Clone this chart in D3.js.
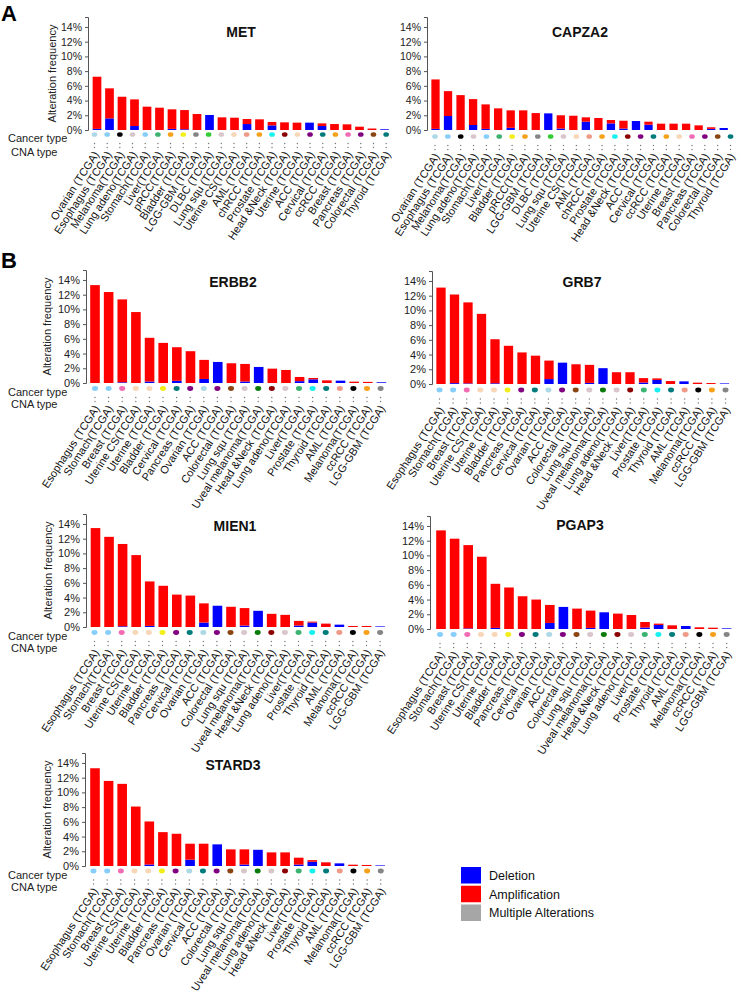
<!DOCTYPE html>
<html><head><meta charset="utf-8">
<script src="https://cdn.jsdelivr.net/npm/d3@7"></script>
<style>
body{margin:0;background:#fff}
svg{display:block}
text{font-family:"Liberation Sans",Arial,Helvetica,sans-serif}
</style>
</head><body>
<svg id="c" width="741" height="995"></svg>
<script>
// ---------- shared ----------
const yTicks = [0, 2, 4, 6, 8, 10, 12, 14];
const yTickLabels = ["0%", "2%", "4%", "6%", "8%", "10%", "12%", "14%"];
const legendLabels = ["Deletion", "Amplification", "Multiple Alterations"];
const legendColors = ["#0000FF", "#FF0000", "#A6A6A6"];

// ---------- panel A ----------
const metCats = ["Ovarian (TCGA)","Esophagus (TCGA)","Melanoma(TCGA)","Lung adeno(TCGA)","Stomach(TCGA)","Liver(TCGA)","pRCC(TCGA)","Bladder (TCGA)","LGG-GBM (TCGA)","DLBC (TCGA)","Lung squ (TCGA)","Uterine CS(TCGA)","AML (TCGA)","chRCC (TCGA)","Prostate (TCGA)","Head &Neck (TCGA)","Uterine (TCGA)","ACC (TCGA)","Cervical (TCGA)","ccRCC (TCGA)","Breast (TCGA)","Pancreas (TCGA)","Colorectal (TCGA)","Thyroid (TCGA)"];
const metDel = [0.15,1.58,0,0.54,0,0,0.15,0.1,0,2.04,0,0,0.81,0,0.63,0,0,1.0,0.54,0,0,0,0,0.1];
const metAmp = [7.09,4.08,4.52,3.62,3.17,3.03,2.66,2.61,2.17,0,1.72,1.67,0.68,1.45,0.46,1.04,1.0,0,0.36,0.81,0.77,0.45,0.2,0];

const capza2Cats = ["Ovarian (TCGA)","Esophagus (TCGA)","Melanoma(TCGA)","Lung adeno(TCGA)","Stomach(TCGA)","Liver(TCGA)","Bladder (TCGA)","pRCC(TCGA)","LGG-GBM (TCGA)","DLBC (TCGA)","Lung squ (TCGA)","Uterine CS(TCGA)","AML (TCGA)","chRCC (TCGA)","Prostate (TCGA)","Head &Neck (TCGA)","ACC (TCGA)","Cervical (TCGA)","ccRCC (TCGA)","Uterine (TCGA)","Breast (TCGA)","Pancreas (TCGA)","Colorectal (TCGA)","Thyroid (TCGA)"];
const capza2Del = [0.15,1.9,0,0.68,0.15,0,0.3,0,0,2.26,0.2,0,1.13,0,0.9,0.2,1.22,0.72,0,0,0,0,0.15,0.27];
const capza2Amp = [6.72,3.38,4.74,3.52,3.33,2.94,2.37,2.67,2.3,0,1.8,1.94,0.59,1.63,0.46,1.06,0,0.41,0.86,0.86,0.86,0.63,0.22,0];

// ---------- panel B ----------
const erbb2Cats = ["Esophagus (TCGA)","Stomach(TCGA)","Breast (TCGA)","Uterine CS(TCGA)","Uterine (TCGA)","Bladder (TCGA)","Cervical (TCGA)","Pancreas (TCGA)","Ovarian (TCGA)","ACC (TCGA)","Colorectal (TCGA)","Lung squ (TCGA)","Uveal melanoma(TCGA)","Head &Neck (TCGA)","Lung adeno(TCGA)","Liver(TCGA)","Prostate (TCGA)","Thyroid (TCGA)","AML (TCGA)","Melanoma(TCGA)","ccRCC (TCGA)","LGG-GBM (TCGA)"];
const erbb2Del = [0,0,0.1,0,0.2,0,0.3,0,0.55,2.86,0,0.2,2.18,0,0,0.25,0.5,0,0.32,0,0,0.1];
const erbb2Amp = [13.3,12.36,11.26,9.64,5.94,5.45,4.56,4.32,2.59,0,2.68,2.39,0,1.95,1.77,0.57,0.18,0.36,0,0.18,0.15,0];

const grb7Cats = ["Esophagus (TCGA)","Stomach(TCGA)","Breast (TCGA)","Uterine CS(TCGA)","Uterine (TCGA)","Bladder (TCGA)","Pancreas (TCGA)","Cervical (TCGA)","Ovarian (TCGA)","ACC (TCGA)","Colorectal (TCGA)","Lung squ (TCGA)","Uveal melanoma(TCGA)","Lung adeno(TCGA)","Head &Neck (TCGA)","Liver(TCGA)","Prostate (TCGA)","Thyroid (TCGA)","AML (TCGA)","Melanoma(TCGA)","ccRCC (TCGA)","LGG-GBM (TCGA)"];
const grb7Del = [0,0.12,0.08,0,0.1,0,0,0,0.67,2.9,0,0.15,2.15,0,0,0.2,0.55,0,0.36,0,0,0.08];
const grb7Amp = [13.1,12.04,11.01,9.53,5.98,5.19,4.29,3.85,2.51,0,2.68,2.45,0,1.6,1.6,0.6,0.21,0.4,0,0.18,0.13,0];

const mien1Cats = ["Esophagus (TCGA)","Stomach(TCGA)","Breast (TCGA)","Uterine CS(TCGA)","Uterine (TCGA)","Bladder (TCGA)","Pancreas (TCGA)","Cervical (TCGA)","Ovarian (TCGA)","ACC (TCGA)","Colorectal (TCGA)","Lung squ (TCGA)","Uveal melanoma(TCGA)","Head &Neck (TCGA)","Lung adeno(TCGA)","Liver(TCGA)","Prostate (TCGA)","Thyroid (TCGA)","AML (TCGA)","Melanoma(TCGA)","ccRCC (TCGA)","LGG-GBM (TCGA)"];
const mien1Del = [0,0,0.1,0,0.15,0,0,0,0.6,2.89,0,0.2,2.2,0,0,0.2,0.6,0,0.32,0,0,0.08];
const mien1Amp = [13.44,12.25,11.18,9.77,6.04,5.6,4.4,4.27,2.61,0,2.75,2.37,0,1.79,1.65,0.63,0.13,0.46,0,0.14,0.14,0];

const pgap3Cats = ["Esophagus (TCGA)","Stomach(TCGA)","Breast (TCGA)","Uterine CS(TCGA)","Uterine (TCGA)","Bladder (TCGA)","Pancreas (TCGA)","Cervical (TCGA)","Ovarian (TCGA)","ACC (TCGA)","Colorectal (TCGA)","Lung squ (TCGA)","Uveal melanoma(TCGA)","Head &Neck (TCGA)","Lung adeno(TCGA)","Liver(TCGA)","Prostate (TCGA)","Thyroid (TCGA)","AML (TCGA)","Melanoma(TCGA)","ccRCC (TCGA)","LGG-GBM (TCGA)"];
const pgap3Del = [0,0,0.08,0,0.15,0,0,0,0.82,3.0,0,0.15,2.27,0,0,0.2,0.55,0,0.41,0,0,0.09];
const pgap3Amp = [13.4,12.27,11.32,9.82,5.99,5.64,4.45,4.0,2.45,0,2.77,2.35,0,2.09,1.9,0.75,0.18,0.5,0,0.23,0.18,0];

const stard3Cats = ["Esophagus (TCGA)","Stomach(TCGA)","Breast (TCGA)","Uterine CS(TCGA)","Uterine (TCGA)","Bladder (TCGA)","Pancreas (TCGA)","Ovarian (TCGA)","Cervical (TCGA)","ACC (TCGA)","Colorectal (TCGA)","Lung squ (TCGA)","Uveal melanoma(TCGA)","Lung adeno(TCGA)","Head &Neck (TCGA)","Liver(TCGA)","Prostate (TCGA)","Thyroid (TCGA)","AML (TCGA)","Melanoma(TCGA)","ccRCC (TCGA)","LGG-GBM (TCGA)"];
const stard3Del = [0,0,0,0,0.2,0,0,0.86,0,2.94,0,0.2,2.2,0,0,0.2,0.58,0,0.36,0,0,0.08];
const stard3Amp = [13.28,11.56,11.16,8.08,5.85,4.6,4.38,2.17,3.03,0,2.26,2.06,0,1.85,1.85,0.93,0.22,0.5,0,0.18,0.14,0];

// cancer type colours (cBioPortal style)
const typeNames = ["Ovarian","Esophagus","Stomach","Melanoma","Lung adeno","Lung squ","Liver","Bladder","pRCC","chRCC","ccRCC","LGG-GBM","DLBC","Uterine CS","Uterine","AML","Prostate","Head &Neck","ACC","Cervical","Thyroid","Breast","Pancreas","Colorectal","Uveal melanoma"];
const typeColors = ["#ADD8E6","#87CEFA","#87CEFA","#000000","#D8C6CB","#D8C6CB","#3CB371","#F2EE1A","#F7A11A","#F7A11A","#F7A11A","#858585","#32CD32","#F8D6B8","#F8D6B8","#EE9A86","#16F0F0","#8B0000","#800080","#007B7B","#007B7B","#F26CB4","#800080","#8B4513","#0A7A0A"];
const colorOf = d3.scaleOrdinal().domain(typeNames).range(typeColors);
const typeKey = s => s.replace(/\(TCGA\)/, "").trim();

// ---------- layout ----------
const panels = [
  {gene:"MET", cats:metCats, del:metDel, amp:metAmp, axisX:88, zeroY:130, barC:97, barStep:12.5, barW:8.7, dotC:94.5, dotStep:12.68, dotY:134.5, titleX:241, titleY:37, left:true, tickFont:10.5, rx:2.8, ry:2.3, rowDy:[7.5,21.5], ylabX:56, labFont:11},
  {gene:"CAPZA2", cats:capza2Cats, del:capza2Del, amp:capza2Amp, axisX:427, zeroY:130, barC:435.5, barStep:12.53, barW:8.3, dotC:435, dotStep:12.85, dotY:136.5, titleX:580, titleY:37, left:false, tickFont:10.5, rx:2.8, ry:2.3, labFont:11},
  {gene:"ERBB2", cats:erbb2Cats, del:erbb2Del, amp:erbb2Amp, axisX:86, zeroY:383, barC:95, barStep:13.64, barW:9.6, dotC:95, dotStep:13.6, dotY:388.5, titleX:233, titleY:287, left:true, tickFont:11, rx:3, ry:2.4, rowDy:[7,19.5], ylabX:51, labFont:11},
  {gene:"GRB7", cats:grb7Cats, del:grb7Del, amp:grb7Amp, axisX:432, zeroY:384, barC:441, barStep:13.5, barW:9.3, dotC:439.5, dotStep:13.62, dotY:390, titleX:582, titleY:287, left:false, tickFont:11, rx:3, ry:2.4, labFont:11},
  {gene:"MIEN1", cats:mien1Cats, del:mien1Del, amp:mien1Amp, axisX:86, zeroY:627, barC:95.5, barStep:13.55, barW:9.6, dotC:94.5, dotStep:13.6, dotY:632.5, titleX:235, titleY:531, left:true, tickFont:11, rx:3, ry:2.4, rowDy:[7,19.5], ylabX:52, labFont:11},
  {gene:"PGAP3", cats:pgap3Cats, del:pgap3Del, amp:pgap3Amp, axisX:430, zeroY:629, barC:441, barStep:13.6, barW:9.6, dotC:440, dotStep:13.65, dotY:634.5, titleX:580, titleY:530, left:false, tickFont:11, rx:3, ry:2.4, labFont:11},
  {gene:"STARD3", cats:stard3Cats, del:stard3Del, amp:stard3Amp, axisX:85, zeroY:866, barC:95, barStep:13.58, barW:9.6, dotC:93.5, dotStep:13.68, dotY:871, titleX:233, titleY:770, left:true, tickFont:11, rx:3, ry:2.4, rowDy:[7.5,19.5], ylabX:51, labFont:11}
];

const svg = d3.select("#c");
const PX_PER_PCT = 7.36;
const Y_MAX = 15.35;

panels.forEach(p => {
  const n = p.cats.length;
  const pad = 1 - p.barW / p.barStep;
  const x0 = p.barC - p.barStep / 2;
  const x = d3.scaleBand().domain(p.cats).range([x0, x0 + n * p.barStep]).paddingInner(pad).paddingOuter(pad / 2);
  const xd = d3.scalePoint().domain(p.cats).range([p.dotC, p.dotC + (n - 1) * p.dotStep]);
  const y = d3.scaleLinear().domain([0, Y_MAX]).range([p.zeroY, p.zeroY - Y_MAX * PX_PER_PCT]);
  const g = svg.append("g");

  // axis
  const axis = d3.axisLeft(y).tickValues(yTicks).tickFormat((d, i) => yTickLabels[i])
    .tickSize(3).tickSizeOuter(3).tickPadding(3);
  const ag = g.append("g").attr("transform", `translate(${p.axisX},0)`).call(axis);
  ag.select(".domain").attr("stroke", "#555").attr("stroke-width", 1);
  ag.selectAll(".tick line").attr("stroke", "#555");
  ag.selectAll(".tick text").attr("fill", "#222").style("font-size", p.tickFont + "px")
    .style("font-family", '"Liberation Sans",Arial,sans-serif');

  // bars
  const rows = p.cats.map((c, i) => ({cat: c, del: p.del[i], amp: p.amp[i]}));
  const stack = d3.stack().keys(["del", "amp"])(rows);
  const fills = {del: "#0000FF", amp: "#FF0000"};
  g.selectAll("g.layer").data(stack).join("g").attr("class", "layer")
    .attr("fill", d => fills[d.key])
    .selectAll("rect").data(d => d.filter(s => s[1] - s[0] > 0)).join("rect")
    .attr("x", d => x(d.data.cat))
    .attr("width", x.bandwidth())
    .attr("y", d => y(d[1]))
    .attr("height", d => y(d[0]) - y(d[1]));

  // cancer type dots
  g.selectAll("ellipse.ct").data(p.cats).join("ellipse").attr("class", "ct")
    .attr("cx", d => xd(d)).attr("cy", p.dotY).attr("rx", p.rx).attr("ry", p.ry)
    .attr("fill", d => colorOf(typeKey(d)));

  // CNA type marks (":" placeholders)
  [9, 13].forEach(off => {
    g.selectAll(null).data(p.cats).join("circle")
      .attr("cx", d => xd(d)).attr("cy", p.dotY + off).attr("r", 0.7).attr("fill", "#777");
  });

  // rotated category labels
  g.selectAll("text.cat").data(p.cats).join("text").attr("class", "cat")
    .attr("text-anchor", "end")
    .attr("transform", d => `translate(${xd(d) + 5},${p.dotY + 20}) rotate(-57)`)
    .style("font-size", p.labFont + "px").attr("fill", "#111")
    .text(d => d);

  // title
  g.append("text").attr("x", p.titleX).attr("y", p.titleY).attr("text-anchor", "middle")
    .style("font-size", "14px").style("font-weight", "bold").attr("fill", "#111").text(p.gene);

  if (p.left) {
    g.append("text").attr("transform", `translate(${p.ylabX},${(y(0) + y(Y_MAX)) / 2}) rotate(-90)`)
      .attr("text-anchor", "middle").style("font-size", "11px").attr("fill", "#222")
      .text("Alteration frequency");
    g.append("text").attr("x", 8).attr("y", p.dotY + p.rowDy[0]).style("font-size", "11px").attr("fill", "#222").text("Cancer type");
    g.append("text").attr("x", 11).attr("y", p.dotY + p.rowDy[1]).style("font-size", "11px").attr("fill", "#222").text("CNA type");
  }
});

// panel letters
svg.append("text").attr("x", 1).attr("y", 21).style("font-size", "22px").style("font-weight", "bold").text("A");
svg.append("text").attr("x", 1).attr("y", 268).style("font-size", "22px").style("font-weight", "bold").text("B");

// legend
const ly = d3.scaleBand().domain(legendLabels).range([867, 921]).paddingInner(0.12);
const lg = svg.append("g");
lg.selectAll("rect").data(legendLabels).join("rect")
  .attr("x", 461).attr("y", d => ly(d)).attr("width", 20).attr("height", ly.bandwidth())
  .attr("fill", (d, i) => legendColors[i]);
lg.selectAll("text").data(legendLabels).join("text")
  .attr("x", 489).attr("y", d => ly(d) + ly.bandwidth() / 2 + 4.5)
  .style("font-size", "12.5px").attr("fill", "#111").text(d => d);
</script>
</body></html>
